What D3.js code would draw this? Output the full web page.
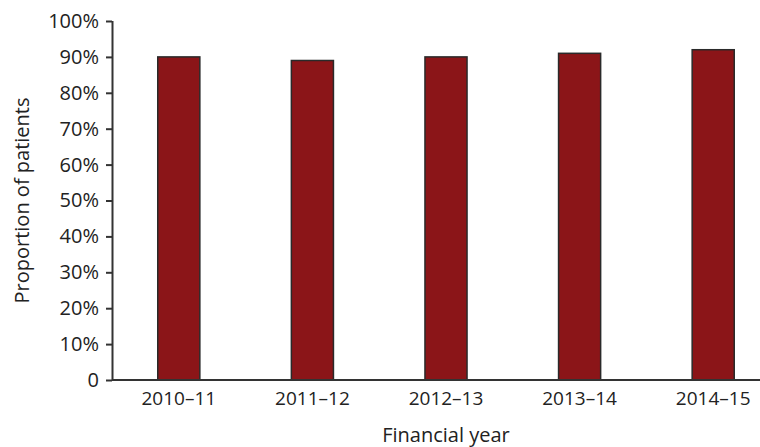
<!DOCTYPE html>
<html>
<head>
<meta charset="utf-8">
<script src="https://cdn.jsdelivr.net/npm/d3@7"></script>
<style>
  body { margin: 0; background: #fff; }
  text { font-family: "Open Sans", "Lato", sans-serif; fill: #222; }
</style>
</head>
<body>
<div id="chart"></div>
<script>
const width = 760;
const height = 447;
const margin = { top: 21, right: 0, bottom: 67, left: 112 };

// data
const years = ['2010–11', '2011–12', '2012–13', '2013–14', '2014–15'];
const proportions = [90, 89, 90, 91, 92];
const yTicks = [0, 10, 20, 30, 40, 50, 60, 70, 80, 90, 100];

const svg = d3.select('#chart')
    .append('svg')
    .attr('width', width)
    .attr('height', height);

const xScale = d3.scaleBand()
    .domain(years)
    .range([margin.left, 780])
    .paddingInner(0.685)
    .paddingOuter(0.3425);

const yScale = d3.scaleLinear()
    .domain([0, 100])
    .range([height - margin.bottom, margin.top]);

// bars
svg.selectAll('.bar')
    .data(years)
    .join('rect')
    .attr('class', 'bar')
    .attr('x', d => xScale(d))
    .attr('width', xScale.bandwidth())
    .attr('y', (d, i) => yScale(proportions[i]))
    .attr('height', (d, i) => yScale(0) - yScale(proportions[i]))
    .style('fill', '#8b1518')
    .style('stroke', '#2a2a2a')
    .style('stroke-width', 1.5);

// y axis
const yAxis = d3.axisLeft(yScale)
    .tickValues(yTicks)
    .tickSize(6)
    .tickPadding(7)
    .tickFormat(d => d === 0 ? '0' : d + '%');

const yAxisGroup = svg.append('g')
    .attr('transform', `translate(${margin.left}, 0)`)
    .call(yAxis);
yAxisGroup.select('.domain').remove();
yAxisGroup.append('line')
    .attr('x1', 0.5).attr('x2', 0.5)
    .attr('y1', yScale(100)).attr('y2', yScale(0))
    .style('stroke', '#333').style('stroke-width', 2);
yAxisGroup.selectAll('.tick line')
    .style('stroke', '#333').style('stroke-width', 2);
yAxisGroup.selectAll('.tick text')
    .style('font-size', '20px')
    .style('fill', '#222');

// x axis
const xAxis = d3.axisBottom(xScale)
    .tickSize(0)
    .tickPadding(12);

const xAxisGroup = svg.append('g')
    .attr('transform', `translate(0, ${yScale(0)})`)
    .call(xAxis);
xAxisGroup.select('.domain').remove();
xAxisGroup.append('line')
    .attr('x1', margin.left).attr('x2', width)
    .attr('y1', 0).attr('y2', 0)
    .style('stroke', '#333').style('stroke-width', 2);
xAxisGroup.selectAll('.tick text')
    .style('font-size', '19px')
    .style('fill', '#222');

// axis titles
svg.append('text')
    .attr('transform', `translate(29, ${(yScale(0) + yScale(100)) / 2}) rotate(-90)`)
    .style('text-anchor', 'middle')
    .style('font-size', '20px')
    .text('Proportion of patients');

svg.append('text')
    .attr('x', 446)
    .attr('y', 442)
    .style('text-anchor', 'middle')
    .style('font-size', '20px')
    .text('Financial year');
</script>
</body>
</html>
